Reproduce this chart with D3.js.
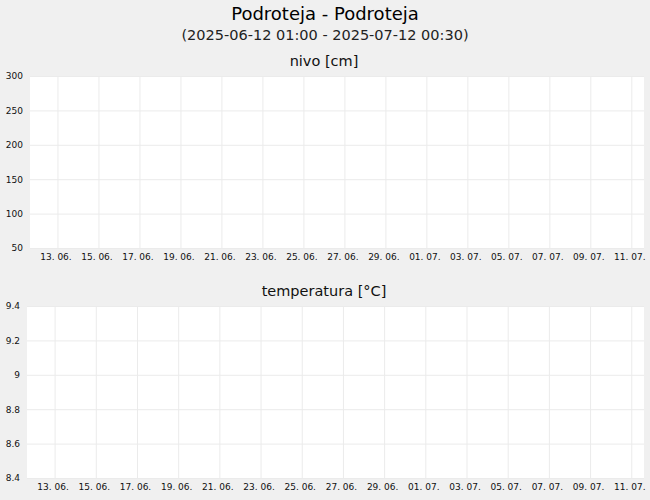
<!DOCTYPE html>
<html>
<head>
<meta charset="utf-8">
<script src="https://cdn.jsdelivr.net/npm/d3@7"></script>
<style>
  body { margin: 0; background: #f0f0f0; }
  svg { display: block; font-family: "DejaVu Sans", sans-serif; }
</style>
</head>
<body>
<svg width="650" height="500"></svg>
<script>
// chart data (station has no readings in this period)
const stationName = 'Podroteja - Podroteja';
const periodText = '(2025-06-12 01:00 - 2025-07-12 00:30)';
const xStart = '2025-06-11 15:50';
const xEnd = '2025-07-11 14:50';
const dateTicks = ['2025-06-13', '2025-06-15', '2025-06-17', '2025-06-19', '2025-06-21',
  '2025-06-23', '2025-06-25', '2025-06-27', '2025-06-29', '2025-07-01', '2025-07-03',
  '2025-07-05', '2025-07-07', '2025-07-09', '2025-07-11'];
const levelTitle = 'nivo [cm]';
const levelTicks = [50, 100, 150, 200, 250, 300];
const levelValues = [];
const tempTitle = 'temperatura [°C]';
const tempTicks = [8.4, 8.6, 8.8, 9, 9.2, 9.4];
const tempValues = [];

const svg = d3.select('svg');
const parseTime = d3.timeParse('%Y-%m-%d %H:%M');
const parseDay = d3.timeParse('%Y-%m-%d');
const tickDates = dateTicks.map(parseDay);
const gridColor = '#ebebeb';

svg.append('text')
  .attr('x', 325).attr('y', 20)
  .attr('text-anchor', 'middle')
  .attr('font-size', 18)
  .attr('fill', '#000')
  .text(stationName);

svg.append('text')
  .attr('x', 325).attr('y', 40)
  .attr('text-anchor', 'middle')
  .attr('font-size', 14.5)
  .attr('fill', '#222')
  .text(periodText);

function drawPanel(opts) {
  const {left, right, top, bottom, title, ticks, values, fmt} = opts;
  const w = right - left, h = bottom - top;

  svg.append('text')
    .attr('x', 324).attr('y', top - 10)
    .attr('text-anchor', 'middle')
    .attr('font-size', 14.5)
    .attr('fill', '#111')
    .text(title);

  const g = svg.append('g').attr('transform', `translate(${left},${top})`);

  g.append('rect').attr('width', w).attr('height', h).attr('fill', '#fff');

  const x = d3.scaleTime()
    .domain([parseTime(xStart), parseTime(xEnd)])
    .range([0, w]);
  const y = d3.scaleLinear()
    .domain(d3.extent(ticks))
    .range([h, 0]);

  // grid lines
  const xGrid = g.append('g')
    .call(d3.axisBottom(x).tickValues(tickDates).tickSize(h).tickFormat(''));
  const yGrid = g.append('g')
    .call(d3.axisLeft(y).tickValues(ticks).tickSize(-w).tickFormat(''));
  [xGrid, yGrid].forEach(a => {
    a.select('.domain').remove();
    a.selectAll('line').attr('stroke', gridColor);
  });

  // axes labels
  const xAxis = g.append('g')
    .attr('transform', `translate(0,${h})`)
    .call(d3.axisBottom(x).tickValues(tickDates).tickSize(0).tickPadding(6)
      .tickFormat(d3.timeFormat('%d. %m.')));
  const yAxis = g.append('g')
    .call(d3.axisLeft(y).tickValues(ticks).tickSize(0).tickPadding(7).tickFormat(fmt));
  [xAxis, yAxis].forEach(a => {
    a.select('.domain').remove();
    a.selectAll('text')
      .attr('font-family', '"DejaVu Sans", sans-serif')
      .attr('font-size', 9)
      .attr('fill', '#111');
  });
  xAxis.selectAll('text').attr('dx', -2);

  // series (empty)
  const line = d3.line().x(d => x(parseTime(d[0]))).y(d => y(d[1]));
  g.append('path').datum(values)
    .attr('fill', 'none').attr('stroke', '#1f5fbf')
    .attr('d', line);
}

drawPanel({left: 30, right: 644, top: 76, bottom: 248,
  title: levelTitle, ticks: levelTicks, values: levelValues, fmt: d3.format('d')});
drawPanel({left: 27, right: 644, top: 306, bottom: 478,
  title: tempTitle, ticks: tempTicks, values: tempValues, fmt: d => String(+d.toFixed(1))});
</script>
</body>
</html>
